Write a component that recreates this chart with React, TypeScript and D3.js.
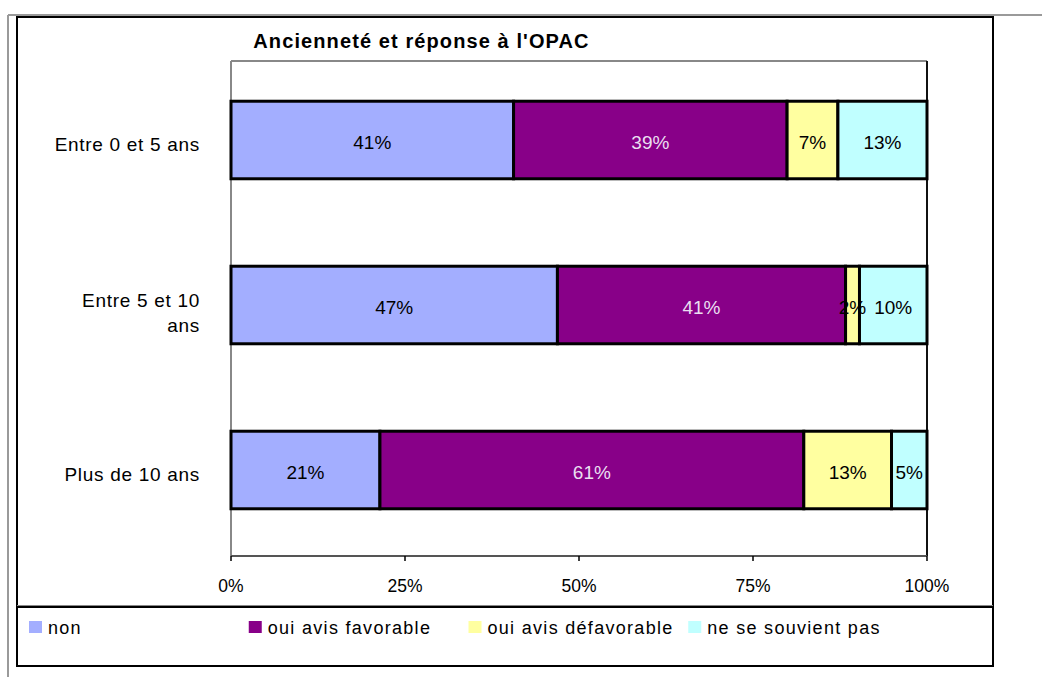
import React from "react";
import * as d3 from "d3";

const categories = ["Entre 0 et 5 ans", "Entre 5 et 10 ans", "Plus de 10 ans"];
const seriesNames = ["non", "oui avis favorable", "oui avis défavorable", "ne se souvient pas"];
const seriesColors = ["#a3aeff", "#880088", "#ffffa0", "#c0ffff"];
const labelColors = ["#000", "#eadff0", "#000", "#000"];
const nonValues = [40.6, 46.9, 21.4];
const favorableValues = [39.3, 41.4, 60.9];
const defavorableValues = [7.3, 2.0, 12.6];
const souvientPasValues = [12.8, 9.7, 5.1];
const xTicks = [0, 25, 50, 75, 100];

const W = 1042;
const H = 677;
const FONT = "'Liberation Sans', Arial, sans-serif";

// outer chart box and plot area (Excel-like frame)
const box = { left: 17, top: 17, right: 993, bottom: 666 };
const plot = { left: 231, top: 61, right: 927, bottom: 556 };
const legendY = 607;

const rows = categories.map((c, i) => ({
  cat: c,
  [seriesNames[0]]: nonValues[i],
  [seriesNames[1]]: favorableValues[i],
  [seriesNames[2]]: defavorableValues[i],
  [seriesNames[3]]: souvientPasValues[i],
}));

// crude wrap for the long category labels
function wrapLabel(s: string): string[] {
  if (s.length <= 16) return [s];
  const i = s.lastIndexOf(" ");
  return [s.slice(0, i), s.slice(i + 1)];
}

export default function App() {
  const x = d3.scaleLinear().domain([0, 100]).range([plot.left, plot.right]);
  const y = d3
    .scaleBand<string>()
    .domain(categories)
    .range([plot.top - 3.5, plot.bottom - 3.5])
    .paddingInner(0.53)
    .paddingOuter(0.265);
  const labelY = d3.scaleBand<string>().domain(categories).range([plot.top, plot.bottom]);

  const stacked = d3.stack<any>().keys(seriesNames)(rows);
  const legendX = d3.scaleBand<string>().domain(seriesNames).range([29, 908]);

  return (
    <svg
      width={W}
      height={H}
      style={{ position: "absolute", left: 0, top: 0, background: "#fff" }}
      fontFamily={FONT}
    >
      {/* page guide lines */}
      <line x1={8} y1={15} x2={W} y2={15} stroke="#9a9a9a" strokeWidth={2} />
      <line x1={8} y1={15} x2={8} y2={H} stroke="#9a9a9a" strokeWidth={2} />

      {/* chart box */}
      <rect
        x={box.left}
        y={box.top}
        width={box.right - box.left}
        height={box.bottom - box.top}
        fill="#fff"
        stroke="#000"
        strokeWidth={2}
      />
      <line x1={box.left} y1={legendY - 1.5} x2={box.right} y2={legendY - 1.5} stroke="#888" strokeWidth={1} />
      <line x1={box.left} y1={legendY} x2={box.right} y2={legendY} stroke="#000" strokeWidth={2} />

      {/* title */}
      <text
        x={421.5}
        y={48}
        textAnchor="middle"
        fontWeight="bold"
        fontSize={20}
        letterSpacing={1.1}
        fill="#000"
      >
        Ancienneté et réponse à l'OPAC
      </text>

      {/* plot frame */}
      <line x1={plot.left} y1={plot.top} x2={plot.right} y2={plot.top} stroke="#888" strokeWidth={2} />
      <line x1={plot.left} y1={plot.top} x2={plot.left} y2={plot.bottom} stroke="#888" strokeWidth={2} />
      <line x1={plot.right} y1={plot.top} x2={plot.right} y2={plot.bottom} stroke="#111" strokeWidth={2} />
      <line x1={plot.left} y1={plot.bottom} x2={plot.right} y2={plot.bottom} stroke="#555" strokeWidth={2} />

      {/* bars */}
      {stacked.map((layer, si) => (
        <g key={layer.key}>
          {layer.map((d, i) => (
            <rect
              key={i}
              x={x(d[0])}
              y={y(categories[i])!}
              width={x(d[1]) - x(d[0])}
              height={y.bandwidth()}
              fill={seriesColors[si]}
              stroke="#000"
              strokeWidth={3}
            />
          ))}
        </g>
      ))}

      {/* value labels */}
      {stacked.map((layer, si) => (
        <g key={"l" + layer.key}>
          {layer.map((d, i) => (
            <text
              key={i}
              x={(x(d[0]) + x(d[1])) / 2}
              y={y(categories[i])! + y.bandwidth() / 2 + 9}
              textAnchor="middle"
              fontSize={19}
              fill={labelColors[si]}
            >
              {Math.round(d[1] - d[0])}%
            </text>
          ))}
        </g>
      ))}

      {/* x axis ticks */}
      {xTicks.map((t) => (
        <g key={t}>
          <line x1={x(t)} y1={plot.bottom} x2={x(t)} y2={plot.bottom + 5} stroke="#000" strokeWidth={1.5} />
          <text x={x(t)} y={592} textAnchor="middle" fontSize={17.5} fill="#000">
            {t}%
          </text>
        </g>
      ))}

      {/* category labels */}
      {categories.map((c) => {
        const lines = wrapLabel(c);
        const cy = labelY(c)! + labelY.bandwidth() / 2;
        const first = cy + 7 - ((lines.length - 1) * 25) / 2;
        return (
          <text key={c} textAnchor="end" fontSize={19} letterSpacing={0.7} fill="#000">
            {lines.map((ln, k) => (
              <tspan key={k} x={200} y={first + k * 25 + (lines.length > 1 ? 4 : 0)}>
                {ln}
              </tspan>
            ))}
          </text>
        );
      })}

      {/* legend */}
      {seriesNames.map((s, i) => (
        <g key={s} transform={`translate(${legendX(s)},0)`}>
          <rect x={0} y={621} width={13} height={12} fill={seriesColors[i]} />
          <text x={19} y={634} fontSize={18} letterSpacing={1.3} fill="#000">
            {s}
          </text>
        </g>
      ))}
    </svg>
  );
}
